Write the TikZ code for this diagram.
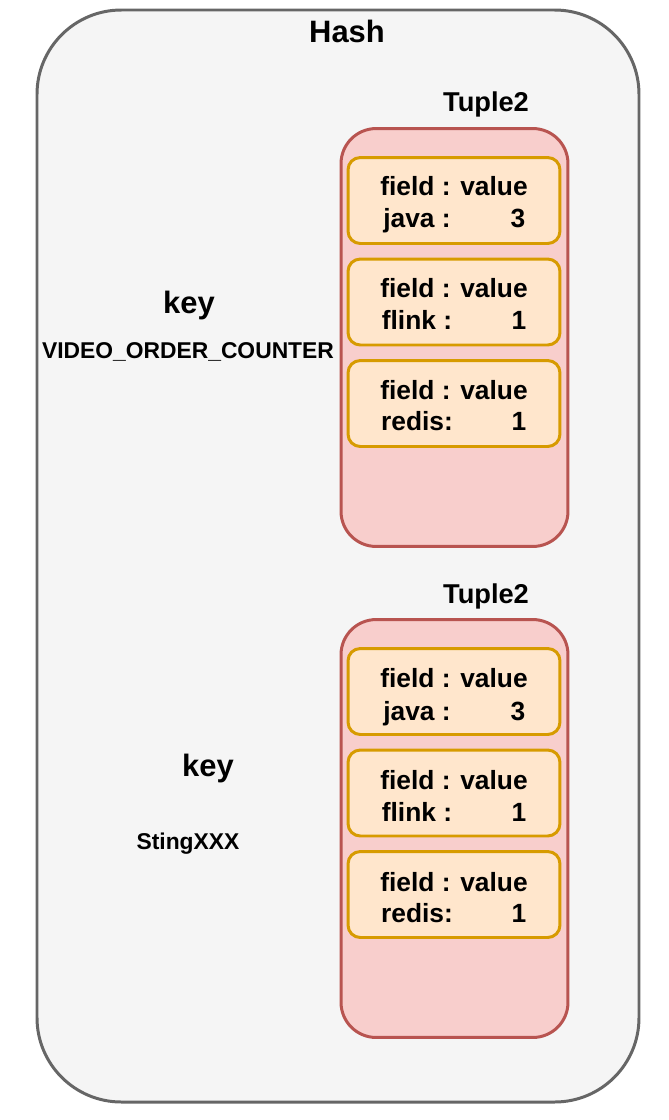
\documentclass[tikz,border=0pt]{standalone}
\usepackage{fontspec}
\setmainfont{Liberation Sans}

\definecolor{hashfill}{HTML}{F5F5F5}
\definecolor{hashline}{HTML}{666666}
\definecolor{tuplefill}{HTML}{F8CECC}
\definecolor{tupleline}{HTML}{B85450}
\definecolor{pairfill}{HTML}{FFE6CC}
\definecolor{pairline}{HTML}{D79B00}

\tikzset{
  hashbox/.style={draw=hashline, fill=hashfill, line width=1.7pt, rounded corners=48pt},
  tuplebox/.style={draw=tupleline, fill=tuplefill, line width=1.7pt, rounded corners=20pt,
    minimum width=4.54cm, minimum height=8.36cm, inner sep=0pt},
  pairbox/.style={draw=pairline, fill=pairfill, line width=1.7pt, rounded corners=7pt,
    minimum width=4.24cm, minimum height=1.72cm, inner sep=0pt},
  txt/.style={font=\bfseries\fontsize{15}{18}\selectfont, inner sep=0pt, anchor=base},
  title/.style={font=\bfseries\fontsize{17.6}{21}\selectfont, inner sep=0pt},
  small/.style={font=\bfseries\fontsize{13}{16}\selectfont, inner sep=0pt}
}

\begin{document}
\begin{tikzpicture}[x=0.02cm, y=-0.02cm]
  \useasboundingbox (0,0) rectangle (669,1120);

  % outer hash
  \draw[hashbox] (37,10) rectangle (639,1102);
  \node[title] (hash) at (347,31) {Hash};

  % first tuple
  \node[txt, font=\bfseries\fontsize{15.5}{18}\selectfont] (tupA) at (486,111) {Tuple2};
  \node[tuplebox] (boxA) at (454.5,337.5) {};
  \node[pairbox] (a1) at (454,200.5) {};
  \node[pairbox] (a2) at (454,302) {};
  \node[pairbox] (a3) at (454,403.5) {};
  \node[txt] (a1f) at (454,195) {field : value};
  \node[txt] (a1k) at (417,227) {java :};
  \node[txt] (a1v) at (518,227) {3};
  \node[txt] (a2f) at (454,297) {field : value};
  \node[txt] (a2k) at (417,329) {flink :};
  \node[txt] (a2v) at (519,329) {1};
  \node[txt] (a3f) at (454,399) {field : value};
  \node[txt] (a3k) at (417,430) {redis:};
  \node[txt] (a3v) at (519,430) {1};

  \node[title] (keyA) at (189,305) {key};
  \node[small] (nameA) at (188,352) {VIDEO\_ORDER\_COUNTER};

  % second tuple
  \node[txt, font=\bfseries\fontsize{15.5}{18}\selectfont] (tupB) at (486,603) {Tuple2};
  \node[tuplebox] (boxB) at (454.5,828.5) {};
  \node[pairbox] (b1) at (454,691.5) {};
  \node[pairbox] (b2) at (454,793) {};
  \node[pairbox] (b3) at (454,894.5) {};
  \node[txt] (b1f) at (454,687) {field : value};
  \node[txt] (b1k) at (417,720) {java :};
  \node[txt] (b1v) at (518,720) {3};
  \node[txt] (b2f) at (454,789) {field : value};
  \node[txt] (b2k) at (417,821) {flink :};
  \node[txt] (b2v) at (519,821) {1};
  \node[txt] (b3f) at (454,891) {field : value};
  \node[txt] (b3k) at (417,922) {redis:};
  \node[txt] (b3v) at (519,922) {1};

  \node[title] (keyB) at (208,768) {key};
  \node[small] (nameB) at (188,844) {StingXXX};
\end{tikzpicture}
\end{document}
